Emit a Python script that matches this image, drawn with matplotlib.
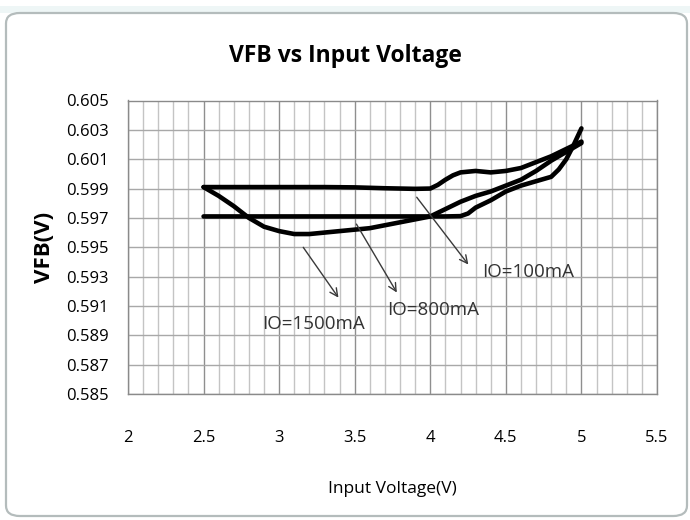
import matplotlib
matplotlib.use('Agg')
import matplotlib.pyplot as plt
from matplotlib.patches import FancyBboxPatch, Rectangle

# values
vin_100ma = [2.5, 2.7, 2.9, 3.1, 3.3, 3.5, 3.6, 3.7, 3.8, 3.9, 4.0, 4.05,
             4.1, 4.15, 4.2, 4.3, 4.4, 4.5, 4.6, 4.7, 4.8, 4.9, 5.0]
vfb_100ma = [0.5991, 0.5991, 0.5991, 0.5991, 0.5991, 0.59908, 0.59905,
             0.59902, 0.5990, 0.59898, 0.5990, 0.59925, 0.5996, 0.5999,
             0.6001, 0.6002, 0.6001, 0.6002, 0.6004, 0.6008, 0.6012,
             0.6017, 0.6022]

vin_800ma = [2.5, 3.0, 3.5, 4.0, 4.1, 4.2, 4.25, 4.3, 4.4, 4.5, 4.6, 4.7,
             4.8, 4.85, 4.9, 4.95, 5.0]
vfb_800ma = [0.5971, 0.5971, 0.5971, 0.5971, 0.5971, 0.59712, 0.5973,
             0.5977, 0.5982, 0.5988, 0.5992, 0.5995, 0.5998, 0.6003,
             0.6010, 0.6020, 0.6031]

vin_1500ma = [2.5, 2.6, 2.7, 2.8, 2.9, 3.0, 3.1, 3.2, 3.3, 3.4, 3.5, 3.6,
              3.7, 3.8, 3.9, 4.0, 4.1, 4.2, 4.3, 4.4, 4.5, 4.6, 4.7, 4.8,
              4.9, 5.0]
vfb_1500ma = [0.5991, 0.5985, 0.5978, 0.5970, 0.5964, 0.5961, 0.5959,
              0.5959, 0.5960, 0.5961, 0.5962, 0.5963, 0.5965, 0.5967,
              0.5969, 0.5971, 0.5976, 0.5981, 0.5985, 0.5988, 0.5992,
              0.5996, 0.6002, 0.6009, 0.6015, 0.6021]

x_ticks = [2, 2.5, 3, 3.5, 4, 4.5, 5, 5.5]
x_tick_labels = ['2', '2.5', '3', '3.5', '4', '4.5', '5', '5.5']
y_ticks = [0.585, 0.587, 0.589, 0.591, 0.593, 0.595, 0.597, 0.599,
           0.601, 0.603, 0.605]

# label text, label position, arrow tail (on curve), arrow head
callouts = [
    ('IO=1500mA', (2.885, 0.58943), (3.149, 0.59515), (3.403, 0.59141)),
    ('IO=800mA', (3.712, 0.59038), (3.502, 0.59674), (3.788, 0.59175)),
    ('IO=100mA', (4.340, 0.59297), (3.899, 0.59856), (4.263, 0.59367)),
]

W, H = 690, 520
fig = plt.figure(figsize=(W / 100, H / 100), dpi=100)

# spreadsheet strip above the chart and the excel style chart frame
fig.patches.append(Rectangle((0, 1 - 13 / H), 1, 7 / H,
                             transform=fig.transFigure, facecolor='#eef6f6',
                             edgecolor='none', zorder=-2))
frame = FancyBboxPatch((6 / W, 4 / H), 681 / W, 503 / H,
                       boxstyle='round,pad=0,rounding_size=0.02',
                       transform=fig.transFigure, facecolor='none',
                       edgecolor='#b4bcbc', linewidth=1.6, zorder=-1)
fig.patches.append(frame)

ax = fig.add_axes([128 / W, 1 - 394 / H, 529 / W, 293.5 / H])
ax.set_xlim(2, 5.5)
ax.set_ylim(0.585, 0.605)

# grid: minor verticals every 0.1, majors every 0.5
for i in range(36):
    xv = 2 + i * 0.1
    major = i % 5 == 0
    ax.axvline(xv, color='#8f8f8f' if major else '#c4c4c4',
               linewidth=1.0, zorder=1)
for yv in y_ticks:
    ax.axhline(yv, color='#a8a8a8', linewidth=1.0, zorder=1)

for xs, ys in ((vin_100ma, vfb_100ma), (vin_800ma, vfb_800ma),
               (vin_1500ma, vfb_1500ma)):
    ax.plot(xs, ys, color='black', linewidth=3.3,
            solid_capstyle='round', solid_joinstyle='round', zorder=3)

tick_font = dict(family=['Open Sans', 'DejaVu Sans'], size=12)
ax.set_xticks(x_ticks)
ax.set_xticklabels(x_tick_labels, **tick_font)
ax.set_yticks(y_ticks)
ax.set_yticklabels(['%.3f' % v for v in y_ticks], **tick_font)
ax.tick_params(axis='both', length=0, colors='black')
ax.tick_params(axis='x', pad=26)
ax.tick_params(axis='y', pad=14)

for s in ax.spines.values():
    s.set_color('#8a8a8a')
    s.set_linewidth(1.0)

for text, pos, tail, head in callouts:
    ax.annotate('', xy=head, xytext=tail,
                arrowprops=dict(arrowstyle='->', color='#3a3a3a',
                                linewidth=1.0, mutation_scale=14),
                zorder=4)
    ax.text(pos[0], pos[1], text, ha='left', va='baseline',
            color='#333333', fontsize=13.5,
            family=['Open Sans', 'DejaVu Sans'], zorder=5)

fig.text(0.5, 1 - 61.7 / H, 'VFB vs Input Voltage', ha='center',
         va='baseline', fontsize=16.5, fontweight='bold',
         family=['Open Sans', 'DejaVu Sans'])
fig.text(45 / W, 1 - 247 / H, 'VFB(V)', rotation=90, ha='center',
         va='center', fontsize=16, fontweight='bold',
         family=['Open Sans', 'DejaVu Sans'])
fig.text(392 / W, 1 - 489 / H, 'Input Voltage(V)', ha='center',
         va='center', fontsize=12.5,
         family=['Open Sans', 'DejaVu Sans'])

plt.savefig('out.png', dpi=100)
